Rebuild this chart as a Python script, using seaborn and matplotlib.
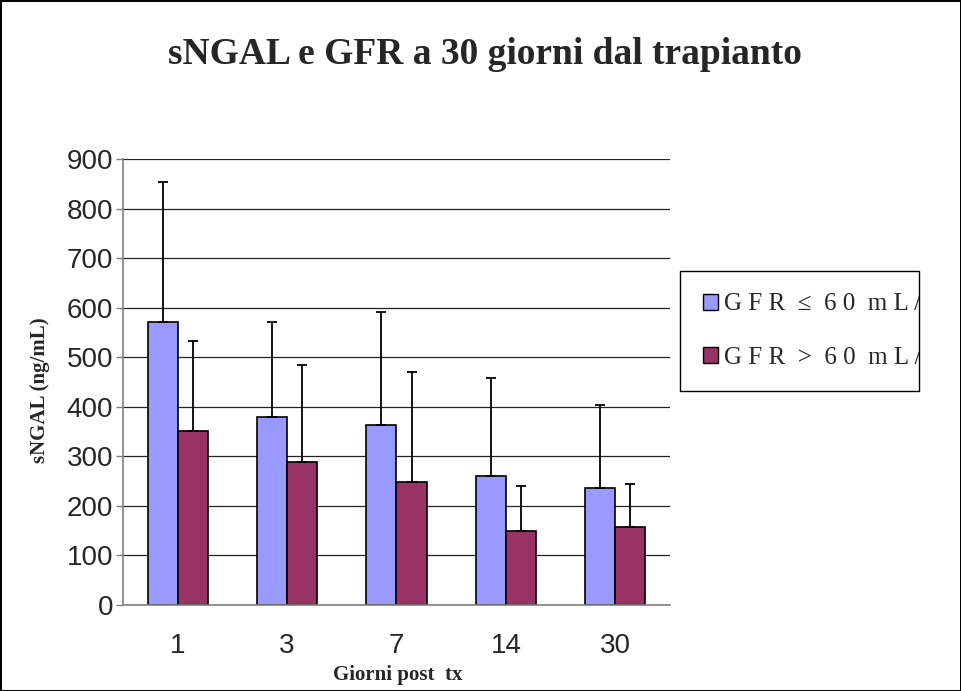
import numpy as np
import pandas as pd
import matplotlib
matplotlib.use("Agg")
import matplotlib.pyplot as plt
from matplotlib.patches import Patch
from matplotlib.transforms import Bbox, TransformedBbox
import seaborn as sns

# data
giorni = ["1", "3", "7", "14", "30"]
gruppi = ["GFR \u2264 60 mL/", "GFR > 60 mL/"]
media_bassa = [572, 379, 363, 260, 236]
ds_bassa = [281, 193, 229, 198, 167]
media_alta = [351, 288, 248, 150, 157]
ds_alta = [182, 197, 222, 90, 87]
y_ticks = [0, 100, 200, 300, 400, 500, 600, 700, 800, 900]

colori = ["#9999FF", "#993366"]

df = pd.DataFrame({
    "giorni": giorni * 2,
    "sngal": media_bassa + media_alta,
    "gruppo": [gruppi[0]] * 5 + [gruppi[1]] * 5,
})

sns.set_style("white")
plt.rcParams["font.family"] = ["Liberation Sans", "DejaVu Sans"]
serif = ["Liberation Serif", "DejaVu Serif"]

fig = plt.figure(figsize=(9.61, 6.91), dpi=100)
fig.patch.set_edgecolor("black")
fig.patch.set_linewidth(2)
ax = fig.add_axes([123 / 961, 1 - 605 / 691, 547 / 961, 446 / 691])

sns.barplot(data=df, x="giorni", y="sngal", hue="gruppo", palette=colori,
            saturation=1, width=0.55, edgecolor="black", linewidth=1.2,
            errorbar=None, legend=False, ax=ax)

# upper error bars on each bar
for cont, ds in zip(ax.containers, [ds_bassa, ds_alta]):
    xs = [p.get_x() + p.get_width() / 2 for p in cont.patches]
    hs = [p.get_height() for p in cont.patches]
    ax.errorbar(xs, hs, yerr=[np.zeros(len(ds)), ds], fmt="none",
                ecolor="black", elinewidth=1.3, capsize=3.6, capthick=1.3, zorder=3)

ax.set_ylim(0, 900)
ax.set_xlim(-0.5, 4.5)
ax.set_yticks(y_ticks)
ax.set_yticklabels([str(v) for v in y_ticks], fontsize=20)
ax.set_xticks(range(len(giorni)))
ax.set_xticklabels(giorni, fontsize=20)
ax.set_xticks(np.arange(-0.5, 5, 1), minor=True)
ax.tick_params(axis="x", which="major", length=0, pad=20)
ax.tick_params(axis="x", which="minor", length=6, direction="out", color="#808080", width=1)
ax.tick_params(axis="y", length=5, direction="out", color="#808080", width=1, pad=2, left=True)
ax.set_xlabel("")
ax.set_ylabel("")

ax.yaxis.grid(True, color="#222222", linewidth=0.9)
ax.set_axisbelow(True)
for s in ["top", "right"]:
    ax.spines[s].set_visible(False)
for s in ["left", "bottom"]:
    ax.spines[s].set_color("#808080")
    ax.spines[s].set_linewidth(1.2)

fig.text(0.505, 1 - 55 / 691, "sNGAL e GFR a 30 giorni dal trapianto",
         ha="center", va="center", fontsize=27, fontweight="bold", family=serif)
fig.text(40 / 961, 1 - 390 / 691, "sNGAL (ng/mL)", rotation=90,
         ha="center", va="center", fontsize=15, fontweight="bold", family=serif)
fig.text(398 / 961, 1 - 675 / 691, "Giorni post  tx",
         ha="center", va="center", fontsize=15, fontweight="bold", family=serif)

# legend box of fixed size, labels cut at its right edge
box = (680 / 961, 1 - 388 / 691, 239 / 961, 117 / 691)
handles = [Patch(facecolor=c, edgecolor="black", linewidth=1) for c in colori]
etichette = ["G F R  \u2264  6 0  m L /", "G F R  >  6 0  m L /"]
leg = fig.legend(handles, etichette, loc="upper left", mode="expand",
                 bbox_to_anchor=box, frameon=True,
                 fancybox=False, edgecolor="black", framealpha=1,
                 borderaxespad=0, handlelength=0.6, handleheight=0.6,
                 handletextpad=0.24, labelspacing=1.25, borderpad=0.9,
                 prop={"family": serif, "size": 18})
leg.get_frame().set_linewidth(1)
clip = TransformedBbox(Bbox.from_bounds(*box), fig.transFigure)
for t in leg.get_texts():
    t.set_clip_box(clip)
    t.set_clip_on(True)

fig.savefig("out.png", dpi=100)
